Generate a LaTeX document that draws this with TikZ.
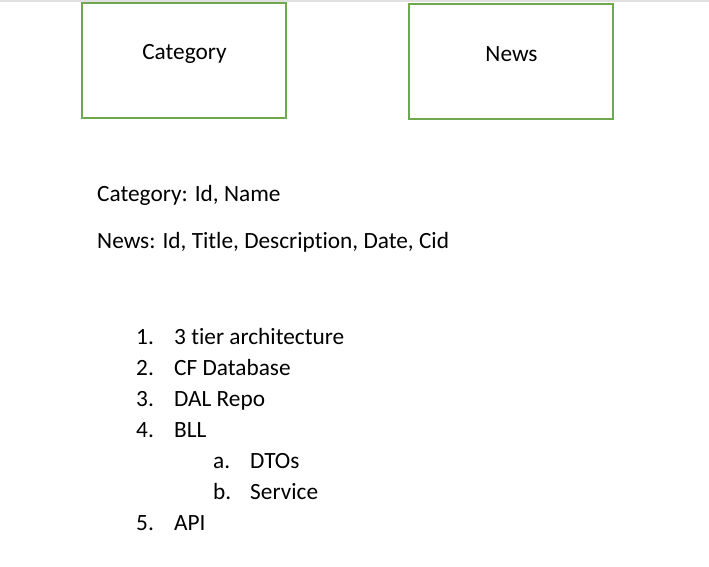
\documentclass[tikz,border=0pt]{standalone}
\usepackage{fontspec}
\setmainfont{Carlito}[Ligatures={NoCommon}]
\definecolor{boxgreen}{RGB}{112,168,80}
\begin{document}
\begin{tikzpicture}[x=1pt,y=-1pt,
  entity/.style={draw=boxgreen,line width=1.5pt,fill=white},
  txt/.style={anchor=base west,inner sep=0pt,font=\fontsize{23.3}{28}\selectfont},
  lbl/.style={anchor=base,inner sep=0pt,font=\fontsize{23.3}{28}\selectfont}]
\useasboundingbox (0,0) rectangle (709,566);
\fill[white] (0,0) rectangle (709,566);
\fill[black!12] (0,0) rectangle (709,2);
% boxes
\draw[entity] (82,3) rectangle (286,118);
\draw[entity] (409,4) rectangle (613,119);
\node[lbl] (cat) at (184.5,59) {Category};
\node[lbl] (news) at (511.5,61) {News};
% schema
\node[txt] (s1) at (97,201) {Category: Id, Name};
\node[txt] (s2) at (97,248) {News: Id, Title, Description, Date, Cid};
% list
\node[txt] (n1) at (136,344.5) {1.};
\node[txt] (t1) at (174,344.5) {3 tier architecture};
\node[txt] (n2) at (136,375.5) {2.};
\node[txt] (t2) at (174,375.5) {CF Database};
\node[txt] (n3) at (136,406.5) {3.};
\node[txt] (t3) at (174,406.5) {DAL Repo};
\node[txt] (n4) at (136,437.5) {4.};
\node[txt] (t4) at (174,437.5) {BLL};
\node[txt] (na) at (213,468.5) {a.};
\node[txt] (ta) at (250,468.5) {DTOs};
\node[txt] (nb) at (213,499.5) {b.};
\node[txt] (tb) at (250,499.5) {Service};
\node[txt] (n5) at (136,530.5) {5.};
\node[txt] (t5) at (174,530.5) {API};
\end{tikzpicture}
\end{document}
